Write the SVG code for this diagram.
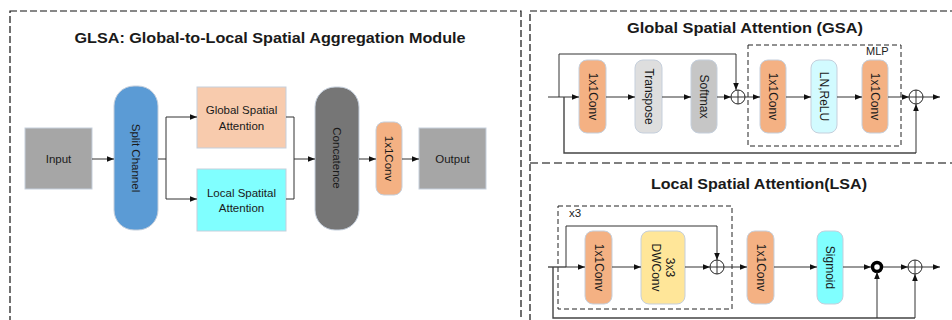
<svg xmlns="http://www.w3.org/2000/svg" width="952" height="320" viewBox="0 0 952 320">
<defs>
<marker id="ah" viewBox="0 0 10 10" refX="10" refY="5" markerWidth="7" markerHeight="7" markerUnits="userSpaceOnUse" orient="auto">
<path d="M0,1 L10,5 L0,9 z" fill="#111"/>
</marker>
</defs>
<style>
text{font-family:"Liberation Sans",Arial,sans-serif;fill:#1a1a1a;}
.title{font-size:15px;font-weight:bold;}
.lbl{font-size:11.5px;}
.rl{font-size:12px;}
.frame{fill:none;stroke:#111;stroke-width:1.2;stroke-dasharray:7,3;}
.div{fill:none;stroke:#7f7f7f;stroke-width:2;stroke-dasharray:8,4;}
.inner{fill:none;stroke:#222;stroke-width:1;stroke-dasharray:5,3;}
.box{stroke:#c5cfdc;stroke-width:1;}
.ln{fill:none;stroke:#333;stroke-width:1;}
.lnb{fill:none;stroke:#444;stroke-width:1.4;}
.arr{fill:none;stroke:#333;stroke-width:1;marker-end:url(#ah);}
.plus{fill:#fff;stroke:#222;stroke-width:1;}
.gray{fill:#a6a6a6;}
.blue{fill:#5b9bd5;}
.peach{fill:#f8cbad;}
.cyan{fill:#80ffff;}
.dark{fill:#767676;}
.orange{fill:#f4b183;}
.lgray{fill:#dedede;}
.mgray{fill:#c6c6c6;}
.lcyan{fill:#d2fbff;}
.yellow{fill:#ffe699;}
</style>

<!-- frames -->
<rect class="frame" x="10" y="11" width="511" height="330"/>
<rect class="frame" x="530" y="11" width="430" height="330"/>
<line class="div" x1="530" y1="163" x2="952" y2="163"/>

<text class="title" x="270" y="43" text-anchor="middle" textLength="391" lengthAdjust="spacingAndGlyphs">GLSA: Global-to-Local Spatial Aggregation Module</text>
<text class="title" x="745" y="33" text-anchor="middle" font-size="14" textLength="236" lengthAdjust="spacingAndGlyphs">Global Spatial Attention (GSA)</text>
<text class="title" x="759" y="189" text-anchor="middle" font-size="14" textLength="216" lengthAdjust="spacingAndGlyphs">Local Spatial Attention(LSA)</text>

<!-- left module nodes -->
<g id="input"><rect class="box gray" x="25" y="128" width="67" height="61"/><text class="lbl" x="58.5" y="162.5" text-anchor="middle">Input</text></g>
<g id="split"><rect class="box blue" x="114" y="86" width="44" height="144" rx="20"/><text class="lbl" transform="translate(136,158) rotate(90)" text-anchor="middle" dominant-baseline="central">Split Channel</text></g>
<g id="gsa-box"><rect class="box peach" x="197" y="87" width="89" height="61"/><text class="lbl" x="241.5" y="114" text-anchor="middle">Global Spatial</text><text class="lbl" x="241.5" y="130" text-anchor="middle">Attention</text></g>
<g id="lsa-box"><rect class="box cyan" x="197" y="169" width="89" height="62"/><text class="lbl" x="241.5" y="197" text-anchor="middle">Local Spatital</text><text class="lbl" x="241.5" y="212" text-anchor="middle">Attention</text></g>
<g id="concat"><rect class="box dark" x="315" y="87" width="44" height="143" rx="20"/><text class="lbl" transform="translate(337,158) rotate(90)" text-anchor="middle" dominant-baseline="central">Concatence</text></g>
<g id="conv-out"><rect class="box orange" x="376" y="122" width="26" height="73" rx="8"/><text class="lbl" transform="translate(389,158.5) rotate(90)" text-anchor="middle" dominant-baseline="central">1x1Conv</text></g>
<g id="output"><rect class="box gray" x="419" y="128" width="67" height="61"/><text class="lbl" x="452.5" y="162.5" text-anchor="middle">Output</text></g>

<!-- GSA nodes -->
<rect class="inner" x="748" y="45" width="153" height="101"/>
<text x="866" y="55" font-size="11">MLP</text>
<g id="gsa-conv1"><rect class="box orange" x="579" y="60" width="27" height="73" rx="8"/><text class="rl" transform="translate(592.5,96.5) rotate(90)" text-anchor="middle" dominant-baseline="central">1x1Conv</text></g>
<g id="gsa-transpose"><rect class="box lgray" x="635" y="60" width="27" height="73" rx="8"/><text class="rl" transform="translate(648.5,96.5) rotate(90)" text-anchor="middle" dominant-baseline="central">Transpose</text></g>
<g id="gsa-softmax"><rect class="box mgray" x="691" y="60" width="26" height="73" rx="8"/><text class="rl" transform="translate(704,96.5) rotate(90)" text-anchor="middle" dominant-baseline="central">Softmax</text></g>
<g id="gsa-add1"><circle class="plus" cx="738" cy="97" r="7"/><path class="ln" d="M731,97 H745 M738,90 V104"/></g>
<g id="gsa-conv2"><rect class="box orange" x="760" y="60" width="26" height="73" rx="8"/><text class="rl" transform="translate(773,96.5) rotate(90)" text-anchor="middle" dominant-baseline="central">1x1Conv</text></g>
<g id="gsa-lnrelu"><rect class="box lcyan" x="811" y="60" width="26" height="73" rx="8"/><text class="rl" transform="translate(824,96.5) rotate(90)" text-anchor="middle" dominant-baseline="central">LN,ReLU</text></g>
<g id="gsa-conv3"><rect class="box orange" x="862" y="60" width="26" height="73" rx="8"/><text class="rl" transform="translate(875,96.5) rotate(90)" text-anchor="middle" dominant-baseline="central">1x1Conv</text></g>
<g id="gsa-add2"><circle class="plus" cx="916" cy="97" r="7"/><path class="ln" d="M909,97 H923 M916,90 V104"/></g>

<!-- LSA nodes -->
<rect class="inner" x="558" y="206" width="174" height="103"/>
<text class="lbl" x="569" y="217">x3</text>
<g id="lsa-conv1"><rect class="box orange" x="585" y="231" width="27" height="73" rx="8"/><text class="rl" transform="translate(598.5,267.5) rotate(90)" text-anchor="middle" dominant-baseline="central">1x1Conv</text></g>
<g id="lsa-dwconv"><rect class="box yellow" x="641" y="231" width="44" height="73" rx="8"/><text class="rl" transform="translate(663,267.5) rotate(90)" text-anchor="middle"><tspan x="0" y="-3">3x3</tspan><tspan x="0" y="11">DWConv</tspan></text></g>
<g id="lsa-add1"><circle class="plus" cx="717" cy="267" r="7"/><path class="ln" d="M710,267 H724 M717,260 V274"/></g>
<g id="lsa-conv2"><rect class="box orange" x="747" y="231" width="27" height="73" rx="8"/><text class="rl" transform="translate(760.5,267.5) rotate(90)" text-anchor="middle" dominant-baseline="central">1x1Conv</text></g>
<g id="lsa-sigmoid"><rect class="box cyan" x="817" y="231" width="26" height="73" rx="8"/><text class="rl" transform="translate(830,267.5) rotate(90)" text-anchor="middle" dominant-baseline="central">Sigmoid</text></g>
<g id="lsa-mul"><circle cx="877" cy="267" r="4.5" fill="#fff" stroke="#000" stroke-width="3.5"/></g>
<g id="lsa-add2"><circle class="plus" cx="915" cy="267" r="7"/><path class="ln" d="M908,267 H922 M915,260 V274"/></g>

<!-- connectors -->
<g id="connectors">
<line class="arr" x1="92" y1="159" x2="114" y2="159"/>
<path class="ln" d="M158,159 H166 M166,117 V199"/>
<path class="arr" d="M166,117 H197"/>
<path class="arr" d="M166,199 H197"/>
<path class="ln" d="M286,117 H294 V199 H286"/>
<path class="arr" d="M294,159 H315"/>
<line class="arr" x1="359" y1="159" x2="376" y2="159"/>
<line class="arr" x1="402" y1="159" x2="419" y2="159"/>

<line class="arr" x1="548" y1="97" x2="579" y2="97"/>
<path class="ln" d="M559,97 V54 H736"/>
<path class="arr" d="M736,54 V90"/>
<path class="lnb" d="M564,97 V153 H916"/>
<path class="arr" d="M916,153 V104"/>
<line class="arr" x1="606" y1="97" x2="635" y2="97"/>
<line class="arr" x1="662" y1="97" x2="691" y2="97"/>
<line class="arr" x1="717" y1="97" x2="731" y2="97"/>
<line class="arr" x1="745" y1="97" x2="760" y2="97"/>
<line class="arr" x1="786" y1="97" x2="811" y2="97"/>
<line class="arr" x1="837" y1="97" x2="862" y2="97"/>
<line class="arr" x1="888" y1="97" x2="909" y2="97"/>
<line class="arr" x1="923" y1="97" x2="940" y2="97"/>

<line class="lnb" x1="548" y1="267" x2="566" y2="267"/>
<line class="arr" x1="566" y1="267" x2="585" y2="267"/>
<path class="ln" d="M566,267 V226 H717"/>
<path class="arr" d="M717,226 V260"/>
<path class="lnb" d="M553,267 V318 H915"/>
<path class="arr" d="M877,318 V272"/>
<path class="arr" d="M915,318 V274"/>
<line class="arr" x1="612" y1="267" x2="641" y2="267"/>
<line class="arr" x1="685" y1="267" x2="710" y2="267"/>
<line class="arr" x1="724" y1="267" x2="747" y2="267"/>
<line class="arr" x1="774" y1="267" x2="817" y2="267"/>
<line class="arr" x1="843" y1="267" x2="871" y2="267"/>
<line class="arr" x1="883" y1="267" x2="908" y2="267"/>
<line class="arr" x1="922" y1="267" x2="940" y2="267"/>
</g>
</svg>
